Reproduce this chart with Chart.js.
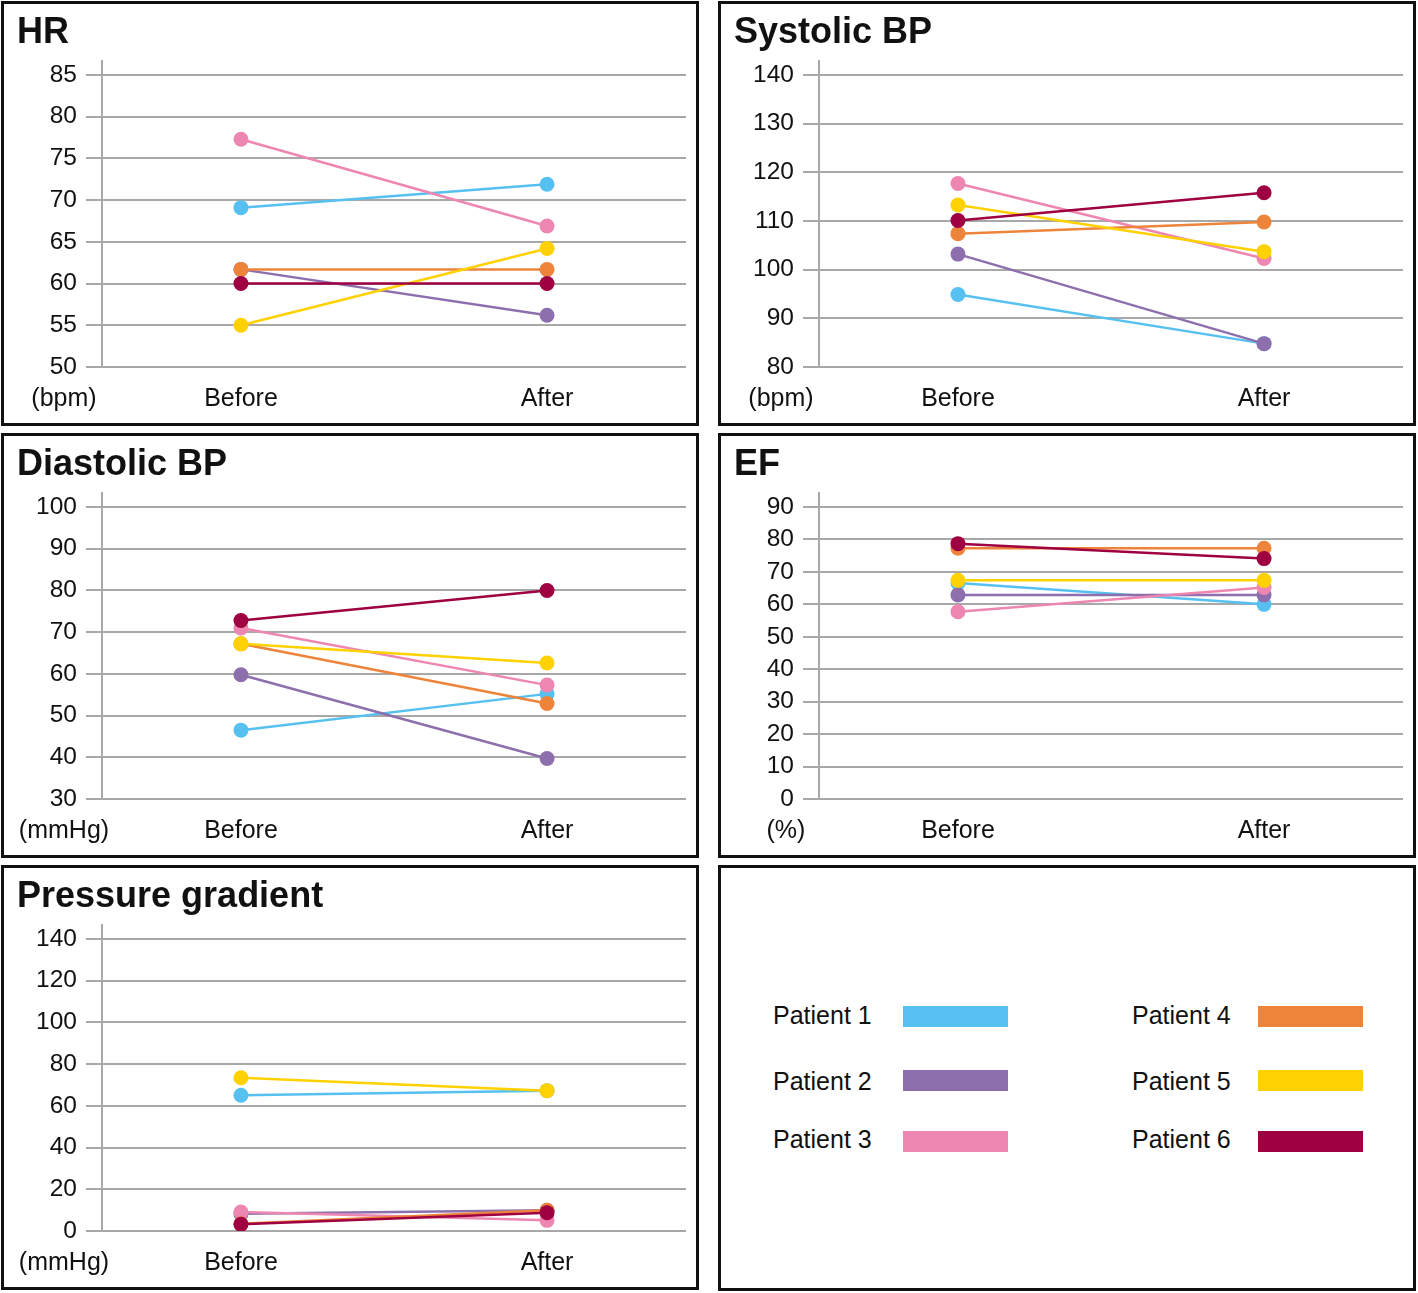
<!DOCTYPE html>
<html>
<head>
<meta charset="utf-8">
<title>Patients before / after</title>
<script src="https://cdn.jsdelivr.net/npm/chart.js@4.4.1/dist/chart.umd.min.js"></script>
<style>
  body { margin: 0; background: #fff; font-family: 'Liberation Sans', Arial, sans-serif; color: #111; }
  #page { position: relative; width: 1418px; height: 1293px; }
  .panel { position: absolute; box-sizing: border-box; width: 698px; height: 425px; border: 3px solid #111; background: #fff; }
  .panel canvas { position: absolute; left: 0; top: 0; }
  .title { position: absolute; left: 13px; top: 9px; font-weight: bold; font-size: 36px; line-height: 36px; white-space: nowrap; }
  .unit { position: absolute; left: 0; width: 120px; top: 381px; text-align: center; font-size: 25px; line-height: 25px; }
  .lg-text { position: absolute; font-size: 25px; line-height: 25px; white-space: nowrap; }
  .lg-swatch { position: absolute; width: 105px; height: 21px; }
</style>
</head>
<body>
<div id="page">
  <div class="panel" style="left:1px;top:1px"><canvas id="hr" width="692" height="419"></canvas><div class="title">HR</div><div class="unit">(bpm)</div></div>
  <div class="panel" style="left:718px;top:1px"><canvas id="sys" width="692" height="419"></canvas><div class="title">Systolic BP</div><div class="unit">(bpm)</div></div>
  <div class="panel" style="left:1px;top:433px"><canvas id="dia" width="692" height="419"></canvas><div class="title">Diastolic BP</div><div class="unit">(mmHg)</div></div>
  <div class="panel" style="left:718px;top:433px"><canvas id="ef" width="692" height="419"></canvas><div class="title">EF</div><div class="unit" style="left:5px">(%)</div></div>
  <div class="panel" style="left:1px;top:865px"><canvas id="pg" width="692" height="419"></canvas><div class="title">Pressure gradient</div><div class="unit">(mmHg)</div></div>
  <div class="panel" style="left:718px;top:865px;height:426px"></div>
  <div id="legend"></div>
</div>
<script>
const categories = ['Before', 'After'];
const patients = ['Patient 1', 'Patient 2', 'Patient 3', 'Patient 4', 'Patient 5', 'Patient 6'];
const colors = ['#56C1F0', '#8E6FAE', '#EE86B2', '#EE843A', '#FFD100', '#9E0042'];

// values, one entry per patient
const hrBefore = [69.1, 61.7, 77.3, 61.7, 55.0, 60.0];
const hrAfter = [71.9, 56.2, 66.9, 61.7, 64.2, 60.0];
const sysBefore = [94.9, 103.2, 117.7, 107.4, 113.3, 110.1];
const sysAfter = [84.8, 84.8, 102.3, 109.8, 103.7, 115.8];
const diaBefore = [46.5, 59.8, 71.0, 67.2, 67.2, 72.8];
const diaAfter = [55.2, 39.7, 57.3, 52.9, 62.6, 80.0];
const efBefore = [66.6, 62.9, 57.7, 77.3, 67.4, 78.7];
const efAfter = [60.0, 62.9, 65.2, 77.3, 67.4, 74.1];
const pgBefore = [65.1, 8.3, 9.1, 3.5, 73.5, 3.2];
const pgAfter = [67.3, 9.9, 5.1, 9.9, 67.3, 8.8];

// y tick labels per panel
const hrTicks = [50, 55, 60, 65, 70, 75, 80, 85];
const sysTicks = [80, 90, 100, 110, 120, 130, 140];
const diaTicks = [30, 40, 50, 60, 70, 80, 90, 100];
const efTicks = [0, 10, 20, 30, 40, 50, 60, 70, 80, 90];
const pgTicks = [0, 20, 40, 60, 80, 100, 120, 140];

Chart.defaults.font.family = "'Liberation Sans', Arial, sans-serif";
Chart.defaults.color = '#111';

const GRID = '#a8a8a8';

function makeChart(id, before, after, ticks) {
  const lo = ticks[0];
  const hi = ticks[ticks.length - 1];
  // the y axis line runs ~14px above the top gridline (292px between first and last)
  const yMax = hi + (hi - lo) * 14 / 292;

  const datasets = patients.map((name, i) => ({
    label: name,
    data: categories.map((c, k) => ({ x: k, y: k === 0 ? before[i] : after[i] })),
    borderColor: colors[i],
    backgroundColor: colors[i],
    borderWidth: 2.5,
    pointRadius: 7.5,
    pointBorderWidth: 0,
    pointHoverRadius: 7.5,
    tension: 0,
    order: patients.length - i   // patient 6 drawn on top
  }));

  return new Chart(document.getElementById(id), {
    type: 'line',
    data: { datasets },
    options: {
      responsive: false,
      animation: false,
      devicePixelRatio: 1,
      layout: { padding: { left: 0, top: 57, right: 10, bottom: 0 } },
      plugins: { legend: { display: false }, tooltip: { enabled: false } },
      scales: {
        x: {
          type: 'linear',
          min: -0.454,
          max: 1.454,
          afterBuildTicks: (s) => { s.ticks = categories.map((c, k) => ({ value: k })); },
          afterFit: (s) => { s.height = 56; },
          ticks: { callback: (v) => categories[v], font: { size: 25 }, padding: 17, maxRotation: 0, autoSkip: false },
          grid: { display: false, drawTicks: false },
          border: { display: false }
        },
        y: {
          type: 'linear',
          min: lo,
          max: yMax,
          afterBuildTicks: (s) => { s.ticks = ticks.map(v => ({ value: v })); },
          afterFit: (s) => { s.width = 98; },
          ticks: { font: { size: 24.5 }, padding: 9, autoSkip: false },
          grid: { color: GRID, lineWidth: 2, tickLength: 16, drawTicks: true },
          border: { display: true, color: GRID, width: 2 }
        }
      }
    }
  });
}

makeChart('hr', hrBefore, hrAfter, hrTicks);
makeChart('sys', sysBefore, sysAfter, sysTicks);
makeChart('dia', diaBefore, diaAfter, diaTicks);
makeChart('ef', efBefore, efAfter, efTicks);
makeChart('pg', pgBefore, pgAfter, pgTicks);

// legend panel: two columns of three
const legend = document.getElementById('legend');
const rowText = [1003, 1069, 1127];
const rowSwatch = [1006, 1070, 1131];
const colText = [773, 1132];
const colSwatch = [903, 1258];
patients.forEach((name, i) => {
  const col = Math.floor(i / 3), row = i % 3;
  const t = document.createElement('div');
  t.className = 'lg-text';
  t.style.left = colText[col] + 'px';
  t.style.top = rowText[row] + 'px';
  t.textContent = name;
  const s = document.createElement('div');
  s.className = 'lg-swatch';
  s.style.left = colSwatch[col] + 'px';
  s.style.top = rowSwatch[row] + 'px';
  s.style.background = colors[i];
  legend.appendChild(t);
  legend.appendChild(s);
});
</script>
</body>
</html>
